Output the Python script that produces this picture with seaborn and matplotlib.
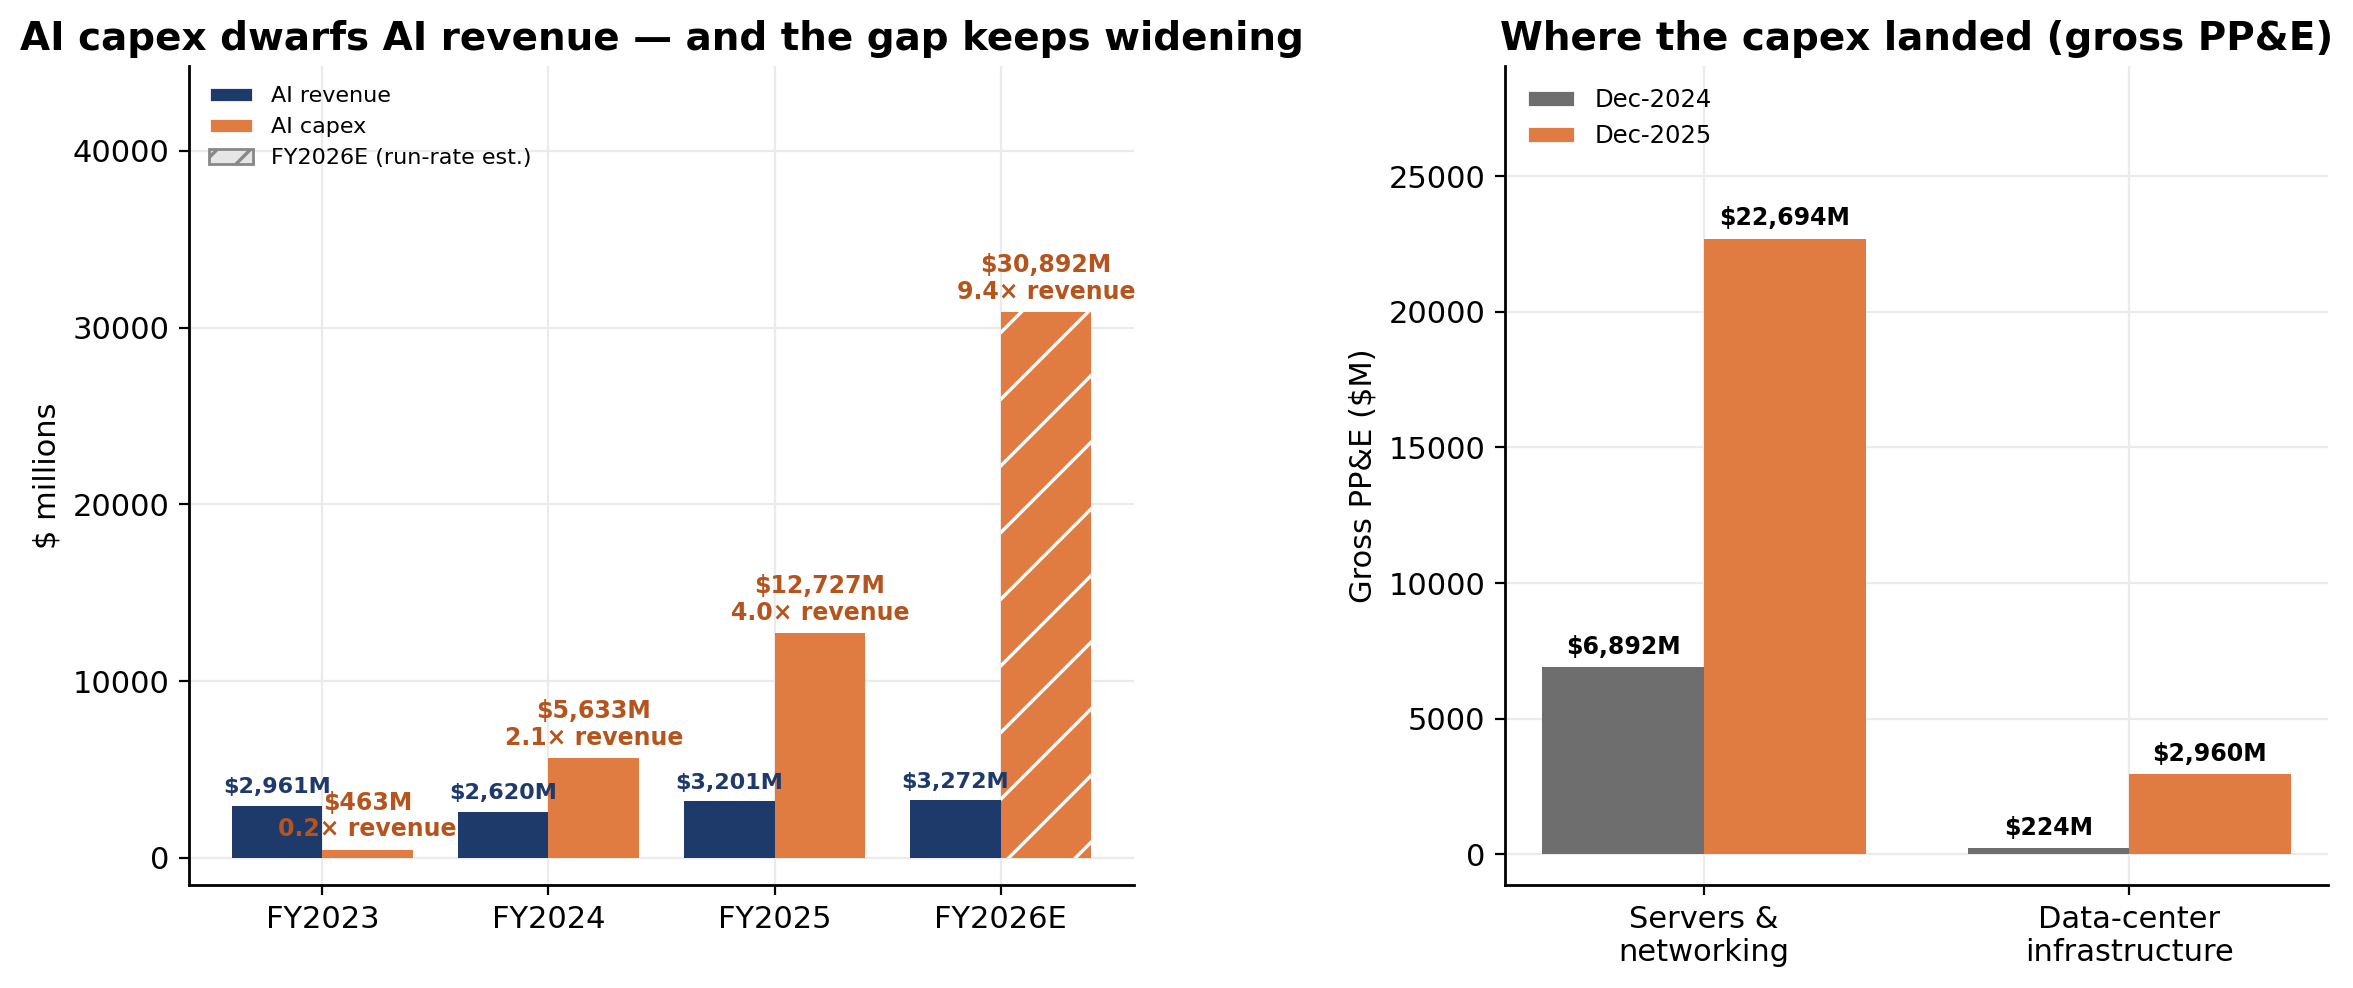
import pandas as pd
import matplotlib.pyplot as plt
import seaborn as sns
from matplotlib.patches import Patch

years = ['FY2023', 'FY2024', 'FY2025', 'FY2026E']
ai_revenue = [2961, 2620, 3201, 3272]
ai_capex = [463, 5633, 12727, 30892]

ppe_cats = ['Servers &\nnetworking', 'Data-center\ninfrastructure']
ppe_2024 = [6892, 224]
ppe_2025 = [22694, 2960]

NAVY = '#1d3a6b'
ORANGE = '#e07b42'
DARK_ORANGE = '#b5541c'
GRAY = '#6e6e6e'


def fit_xlim(ax):
    # matplotlib-style 5% margins around the bars instead of seaborn's +-0.5
    lo = min(p.get_x() for p in ax.patches)
    hi = max(p.get_x() + p.get_width() for p in ax.patches)
    pad = 0.05 * (hi - lo)
    ax.set_xlim(lo - pad, hi + pad)


def make_chart():
    sns.set_style("ticks", rc={'text.color': 'black', 'axes.labelcolor': 'black',
                               'xtick.color': 'black', 'ytick.color': 'black'})
    plt.rcParams['font.family'] = ['DejaVu Sans']
    plt.rcParams['hatch.linewidth'] = 1.2

    fig = plt.figure(figsize=(11.765, 4.94), dpi=200)
    ax1 = fig.add_axes([0.0803, 0.104, 0.4017, 0.829])
    ax2 = fig.add_axes([0.6396, 0.104, 0.3498, 0.829])

    # left: revenue vs capex
    df = pd.DataFrame({
        'year': years * 2,
        'value': ai_revenue + ai_capex,
        'series': ['AI revenue'] * len(years) + ['AI capex'] * len(years),
    })
    sns.barplot(data=df, x='year', y='value', hue='series', ax=ax1,
                palette=[NAVY, ORANGE], width=0.8, saturation=1,
                linewidth=0, legend=False)
    rev_bars, cap_bars = ax1.containers[0], ax1.containers[1]

    last = cap_bars[len(years) - 1]
    last.set_hatch('/')
    last.set_edgecolor('white')
    last.set_linewidth(0)

    for bar, v in zip(rev_bars, ai_revenue):
        ax1.annotate(f'${v:,}M', (bar.get_x() + bar.get_width() / 2, bar.get_height()),
                     xytext=(0, 3), textcoords='offset points', ha='center', va='bottom',
                     fontsize=8, fontweight='bold', color=NAVY)
    for bar, v, r in zip(cap_bars, ai_capex, ai_revenue):
        ax1.annotate(f'${v:,}M\n{v / r:.1f}× revenue',
                     (bar.get_x() + bar.get_width() / 2, bar.get_height()),
                     xytext=(0, 3), textcoords='offset points', ha='center', va='bottom',
                     fontsize=8.5, fontweight='bold', color=DARK_ORANGE, linespacing=1.15)

    fit_xlim(ax1)
    ax1.set_ylim(-0.05 * max(ai_capex), max(ai_capex) * 1.45)
    ax1.set_xlabel('')
    ax1.set_ylabel('$ millions', fontsize=11)
    ax1.set_title('AI capex dwarfs AI revenue — and the gap keeps widening',
                  fontsize=14, fontweight='bold', pad=6)
    handles = [Patch(facecolor=NAVY, label='AI revenue'),
               Patch(facecolor=ORANGE, label='AI capex'),
               Patch(facecolor='#e6e6e6', edgecolor='#888888', hatch='//',
                     label='FY2026E (run-rate est.)')]
    ax1.legend(handles=handles, loc='upper left', frameon=False, fontsize=8)

    # right: gross PP&E
    df2 = pd.DataFrame({
        'cat': ppe_cats * 2,
        'value': ppe_2024 + ppe_2025,
        'period': ['Dec-2024'] * 2 + ['Dec-2025'] * 2,
    })
    sns.barplot(data=df2, x='cat', y='value', hue='period', ax=ax2,
                palette=[GRAY, ORANGE], width=0.76, saturation=1,
                linewidth=0, legend=False)
    for cont, vals in zip(ax2.containers, [ppe_2024, ppe_2025]):
        for bar, v in zip(cont, vals):
            ax2.annotate(f'${v:,}M', (bar.get_x() + bar.get_width() / 2, bar.get_height()),
                         xytext=(0, 3), textcoords='offset points', ha='center', va='bottom',
                         fontsize=8.5, fontweight='bold', color='black')
    fit_xlim(ax2)
    ax2.set_ylim(-0.05 * max(ppe_2025), max(ppe_2025) * 1.28)
    ax2.set_xlabel('')
    ax2.set_ylabel('Gross PP&E ($M)', fontsize=11)
    ax2.set_title('Where the capex landed (gross PP&E)', fontsize=14, fontweight='bold', pad=6)
    handles2 = [Patch(facecolor=GRAY, label='Dec-2024'),
                Patch(facecolor=ORANGE, label='Dec-2025')]
    ax2.legend(handles=handles2, loc='upper left', frameon=False, fontsize=8.75)

    for ax in (ax1, ax2):
        ax.grid(True, color='#ebebeb', linewidth=0.8)
        ax.set_axisbelow(True)
        ax.tick_params(labelsize=11, colors='black')
        for s in ('top', 'right'):
            ax.spines[s].set_visible(False)
        for s in ('left', 'bottom'):
            ax.spines[s].set_color('black')
            ax.spines[s].set_linewidth(1.0)

    fig.savefig('out.png', dpi=200)
    plt.close(fig)


if __name__ == "__main__":
    make_chart()
